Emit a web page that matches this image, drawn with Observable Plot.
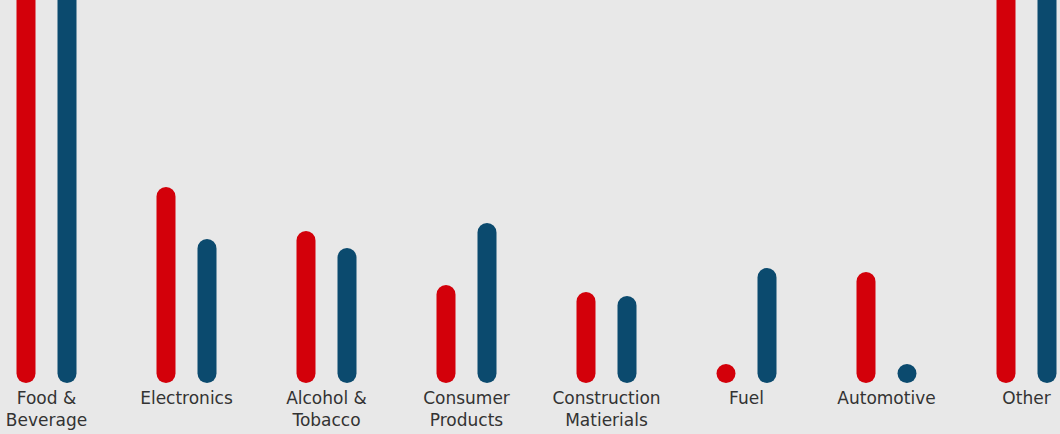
<!DOCTYPE html>
<html>
<head>
<meta charset="utf-8">
<script src="https://cdn.jsdelivr.net/npm/d3@7"></script>
<script src="https://cdn.jsdelivr.net/npm/@observablehq/plot@0.6"></script>
<style>
  html, body { margin: 0; padding: 0; background: #e8e8e8; overflow: hidden; }
  #chart svg { display: block; background: #e8e8e8; }
</style>
</head>
<body>
<div id="chart"></div>
<script>
const categories = ["Food & Beverage", "Electronics", "Alcohol & Tobacco", "Consumer Products", "Construction Matierials", "Fuel", "Automotive", "Other"];
const labels = ["Food &\nBeverage", "Electronics", "Alcohol &\nTobacco", "Consumer\nProducts", "Construction\nMatierials", "Fuel", "Automotive", "Other"];
const redValues = [45, 17.7, 13.3, 7.9, 7.2, 0, 9.2, 45];
const blueValues = [45, 12.5, 11.6, 14.1, 6.8, 9.6, 0, 45];

const red = categories.map((c, i) => ({category: c, value: redValues[i]}));
const blue = categories.map((c, i) => ({category: c, value: blueValues[i]}));
const labelRows = categories.map((c, i) => ({category: c, label: labels[i]}));

const chart = Plot.plot({
  width: 1060,
  height: 434,
  marginLeft: 45,
  marginRight: 34,
  marginTop: 0,
  marginBottom: 60.5,
  style: {background: "#e8e8e8", fontFamily: "DejaVu Sans, sans-serif"},
  x: {type: "point", domain: categories, padding: 0, axis: null},
  y: {domain: [0, 37.35], axis: null},
  marks: [
    Plot.ruleX(red, {x: "category", y1: 0, y2: "value", dx: -20.5, stroke: "#d3000a", strokeWidth: 19, strokeLinecap: "round"}),
    Plot.ruleX(blue, {x: "category", y1: 0, y2: "value", dx: 20.5, stroke: "#0b4a6e", strokeWidth: 19, strokeLinecap: "round"}),
    Plot.text(labelRows, {x: "category", text: "label", frameAnchor: "bottom", dy: 15.5, lineAnchor: "top", fontSize: 17, lineHeight: 1.24, fill: "#333"})
  ]
});
document.getElementById("chart").appendChild(chart);
</script>
</body>
</html>
